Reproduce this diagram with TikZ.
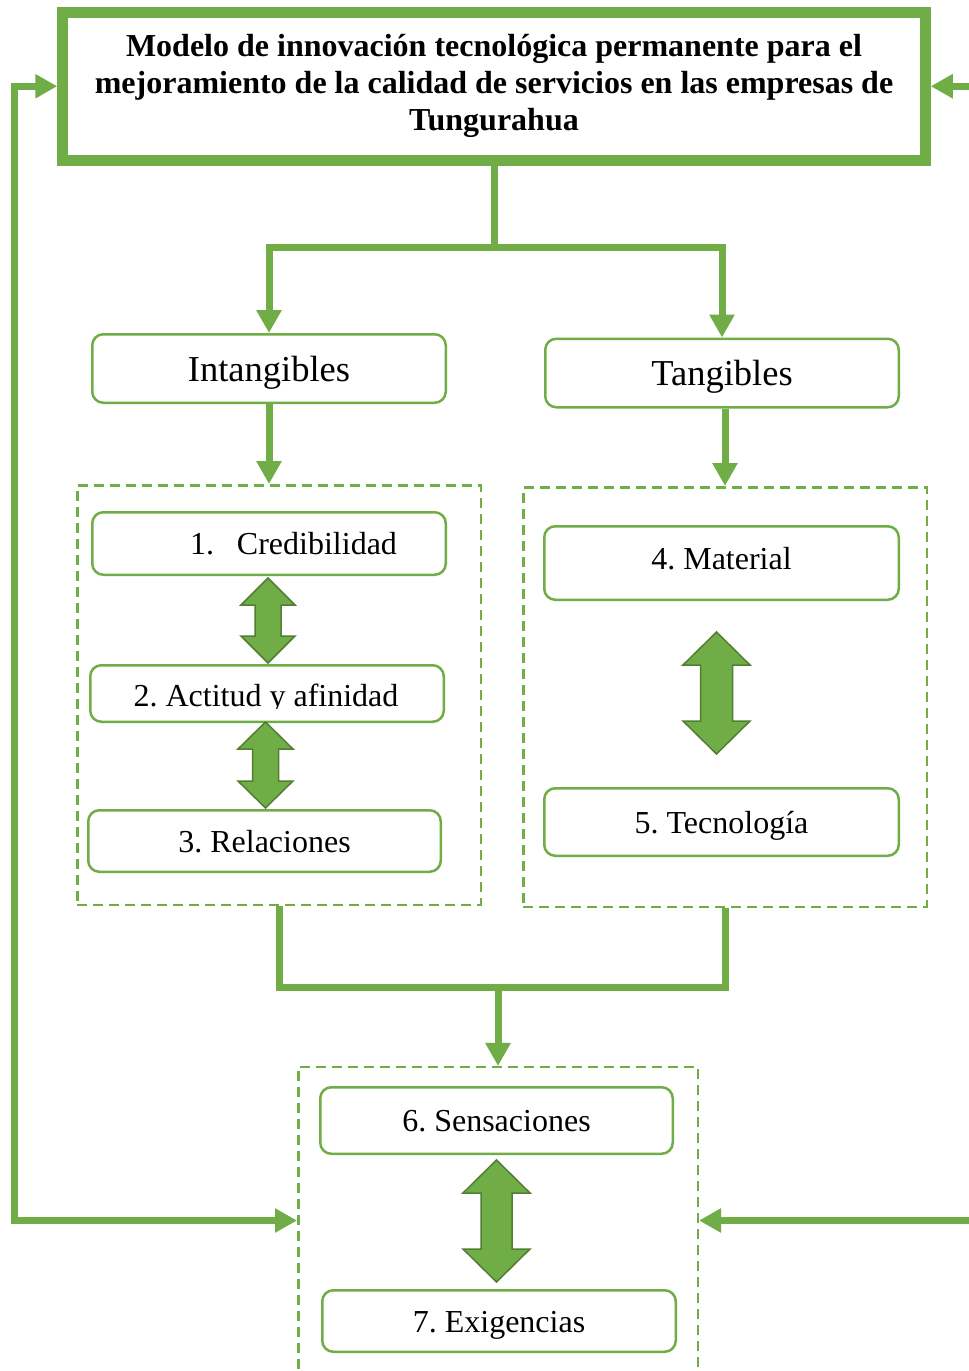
\documentclass[tikz,border=0pt]{standalone}
\usepackage{fontspec}
\setmainfont{Liberation Serif}
\usetikzlibrary{arrows.meta}
\definecolor{leaf}{HTML}{70AD47}
\definecolor{leafdark}{HTML}{507E32}
\frenchspacing

% two-headed block arrow: centre x, top tip, bottom tip, head width, shaft width, head length
\newcommand\twowayarrow[6]{%
  \filldraw[twoway] (#1,#2) -- ({#1+#4/2},{#2+#6}) -- ({#1+#5/2},{#2+#6})
    -- ({#1+#5/2},{#3-#6}) -- ({#1+#4/2},{#3-#6}) -- (#1,#3)
    -- ({#1-#4/2},{#3-#6}) -- ({#1-#5/2},{#3-#6}) -- ({#1-#5/2},{#2+#6})
    -- ({#1-#4/2},{#2+#6}) -- cycle;}

\tikzset{
  conn/.style={draw=leaf,line width=7pt},
  feed/.style={conn,-{Triangle[length=23pt,width=24pt]}},
  loopback/.style={conn,{Triangle[length=22pt,width=23pt]}-{Triangle[length=22pt,width=23pt]}},
  titlebox/.style={draw=leaf,line width=11pt,fill=white,inner sep=0pt,
    minimum width=862.5pt,minimum height=147.5pt,align=center,
    font=\bfseries\fontsize{32}{37}\selectfont},
  box/.style={draw=leaf,line width=2.5pt,rounded corners=11pt,fill=white,inner sep=0pt,
    minimum width=353.5pt,text height=22pt,text depth=0pt,
    font=\fontsize{32}{37}\selectfont},
  head/.style={box,text height=25pt,font=\fontsize{36.5}{40}\selectfont},
  group/.style={draw=leaf,line width=2.5pt,dash pattern=on 10pt off 6pt,inner sep=0pt},
  twoway/.style={fill=leaf,draw=leafdark,line width=1.5pt,line join=miter},
}

\begin{document}
\begin{tikzpicture}[x=1pt,y=-1pt]
\useasboundingbox (0,0) rectangle (969,1371);
\fill[white] (0,0) rectangle (969,1371);
\begin{scope}
\clip (0,0) rectangle (969,1371);

% dashed groups
\node[group,minimum width=403.5pt,minimum height=419.5pt] (gL) at (279,695) {};
\node[group,minimum width=403.5pt,minimum height=419.5pt] (gR) at (725,697) {};
\node[group,minimum width=399.5pt,minimum height=332.75pt] (gB) at (498,1233.6) {};

% title
\node[titlebox] (title) at (494,86.25)
  {Modelo de innovación tecnológica permanente para el\\
   mejoramiento de la calidad de servicios en las empresas de\\
   Tungurahua};

% category boxes
\node[head,minimum height=68.5pt] (intang) at (269,368.5) {Intangibles};
\node[head,minimum height=68.5pt] (tang) at (722,373) {Tangibles};

% items
\node[box,minimum height=62.5pt] (c1) at (269,543.5)
  {\hspace*{49pt}1.\hspace{23pt}Credibilidad};
\node[box,minimum height=56.5pt] (c2) at (267,693.5) {};
\begin{scope}
  \coordinate (cut) at (0,708);
  \clip (c2.north west) rectangle (c2.east |- cut);
  \node[anchor=base,inner sep=0pt,font=\fontsize{32}{37}\selectfont] (c2t) at (266,706)
    {2. Actitud y afinidad};
\end{scope}
\node[box,minimum width=352.5pt,minimum height=61.5pt] (c3) at (264.5,841) {3. Relaciones};
\node[box,minimum width=354.5pt,minimum height=73.5pt] (c4) at (721.5,563)
  {\raisebox{5pt}{4. Material}};
\node[box,minimum width=354.5pt,minimum height=67.5pt] (c5) at (721.5,822) {5. Tecnología};
\node[box,minimum width=352.5pt,minimum height=66.5pt] (c6) at (496.5,1120.5) {6. Sensaciones};
\node[box,minimum height=61.5pt] (c7) at (499,1321) {7. Exigencias};

% tree connectors
\coordinate (split) at (494,247);
\draw[feed] (title.south) -- (split) -| (intang.north);
\draw[feed] (split) -| (tang.north);
\draw[feed] (intang.south) -- (intang.south |- gL.north);
\draw[feed] (gR.north |- tang.south) -- (gR.north);
\coordinate (join) at (498,987);
\draw[conn] (gL.south) |- (join);
\draw[conn] (gR.south) |- (join);
\draw[feed] (join) -- (gB.north);

% feedback loops
\coordinate (lvl) at (0,1220.5);
\coordinate (loopL) at (14,0);
\coordinate (loopR) at (995,0);
\draw[loopback] (title.west) -- (title.west -| loopL) -- (loopL |- lvl) -- (gB.west |- lvl);
\draw[loopback] (title.east) -- (title.east -| loopR) -- (loopR |- lvl) -- (gB.east |- lvl);

% two-way arrows between items
\twowayarrow{268}{578}{663}{54}{26}{27}
\twowayarrow{265.5}{722}{808}{55}{26}{27}
\twowayarrow{716.5}{632}{754}{67}{32}{33}
\twowayarrow{496.5}{1160}{1282}{67}{31}{33}
\end{scope}
\end{tikzpicture}
\end{document}
